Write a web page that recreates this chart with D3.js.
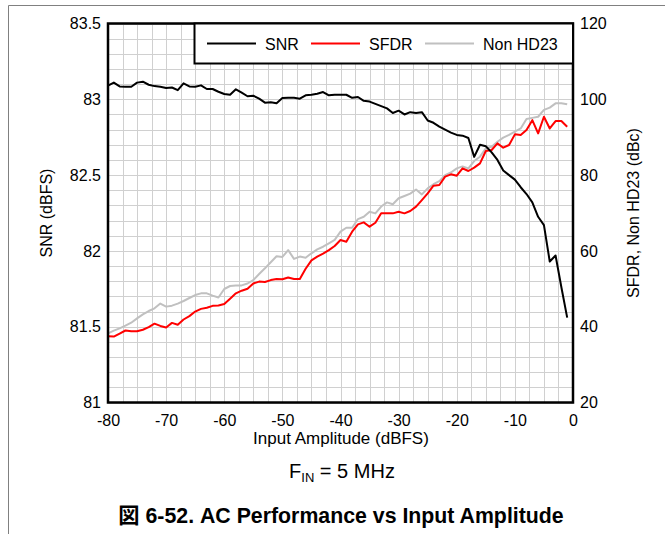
<!DOCTYPE html>
<html>
<head>
<meta charset="utf-8">
<script src="https://cdn.jsdelivr.net/npm/d3@7"></script>
<style>
  html, body { margin: 0; padding: 0; background: #fff; }
  svg { display: block; }
  text { font-family: "Liberation Sans", Arial, "Noto Sans CJK JP", sans-serif; fill: #000; }
</style>
</head>
<body>
<svg id="chart" width="665" height="534"></svg>
<script>
// ---- data ----
const inputAmplitude = [-80,-79,-78,-77,-76,-75,-74,-73,-72,-71,-70,-69,-68,-67,-66,-65,-64,-63,-62,-61,
  -60,-59,-58,-57,-56,-55,-54,-53,-52,-51,-50,-49,-48,-47,-46,-45,-44,-43,-42,-41,
  -40,-39,-38,-37,-36,-35,-34,-33,-32,-31,-30,-29,-28,-27,-26,-25,-24,-23,-22,-21,
  -20,-19,-18,-17,-16,-15,-14,-13,-12,-11,-10,-9,-8,-7,-6,-5,-4,-3,-2,-1];
const snr = [83.09,83.11,83.085,83.083,83.083,83.11,83.116,83.096,83.087,83.083,83.074,83.078,83.06,83.105,83.085,83.083,83.092,83.068,83.068,83.05,
  83.035,83.03,83.066,83.044,83.02,83.024,83.004,82.978,82.98,82.974,83.008,83.01,83.01,83.004,83.026,83.03,83.037,83.048,83.026,83.03,
  83.03,83.03,83.01,83.015,82.99,82.985,82.97,82.955,82.94,82.91,82.925,82.90,82.915,82.91,82.915,82.86,82.845,82.82,82.80,82.78,
  82.765,82.76,82.745,82.62,82.70,82.69,82.65,82.60,82.53,82.50,82.47,82.42,82.375,82.32,82.225,82.17,81.93,81.97,81.76,81.56];
const sfdr = [37.5,37.4,38.2,39.0,38.8,38.8,39.2,39.9,40.8,40.2,39.8,41.0,40.5,41.9,42.8,44.0,44.7,45.0,45.5,45.6,
  46.0,47.4,48.8,49.5,50.0,51.4,51.9,51.8,52.3,52.6,52.5,53.0,52.6,52.6,55.3,57.5,58.5,59.3,60.2,61.3,
  62.87,62.43,65.07,67.0,67.53,66.39,67.44,69.91,69.91,69.91,70.35,69.91,70.52,71.67,73.42,75.18,77.21,77.38,79.58,80.2,
  79.85,81.78,81.08,81.96,83.1,86.35,86.62,88.38,87.23,87.94,90.75,90.58,91.9,94.5,91.0,95.4,92.3,94.27,94.27,92.77];
const nonHD23 = [38.25,38.95,39.57,40.27,41.06,42.2,43.26,44.14,44.85,46.1,45.3,45.55,46.08,46.78,47.57,48.36,48.8,48.8,48.19,47.7,
  49.95,50.74,50.9,50.9,51.4,52.3,53.9,55.4,57.0,58.6,58.4,60.2,57.9,58.5,58.2,59.36,60.4,61.1,62.0,62.9,
  65.07,66.1,66.1,68.4,69.0,70.35,69.9,71.7,72.8,72.3,73.9,74.5,75.1,76.2,74.9,76.5,77.6,78.4,80.0,80.7,
  81.78,82.3,81.78,83.7,84.86,87.06,87.5,88.8,89.9,90.6,91.5,92.3,94.8,95.1,95.4,97.2,97.8,98.93,98.93,98.67];
const xTicks = [-80,-70,-60,-50,-40,-30,-20,-10,0];
const leftTicks = [81,81.5,82,82.5,83,83.5];
const rightTicks = [20,40,60,80,100,120];
const seriesNames = ["SNR","SFDR","Non HD23"];
const seriesColors = ["#000000","#ff0000","#c0c0c0"];

// ---- layout ----
const L = 108, R = 573, T = 23.5, B = 402.5;
const svg = d3.select("#chart");
svg.append("rect").attr("width",665).attr("height",534).attr("fill","#fff");

// page frame
svg.append("line").attr("x1",8.5).attr("x2",665).attr("y1",5.5).attr("y2",5.5).attr("stroke","#808080").attr("stroke-width",1);
svg.append("line").attr("x1",8.5).attr("x2",8.5).attr("y1",5.5).attr("y2",534).attr("stroke","#808080").attr("stroke-width",1);

const x = d3.scaleLinear().domain([-80,0]).range([L,R]);
const yL = d3.scaleLinear().domain([81,83.5]).range([B,T]);
const yR = d3.scaleLinear().domain([20,120]).range([B,T]);

// grid
const g = svg.append("g");
const vGrid = d3.range(-80, 0.001, 2.5);
const hGrid = d3.range(0, 26).map(i => 81 + i*0.1);
g.selectAll(".vg").data(vGrid).join("line")
  .attr("x1", d => Math.round(x(d))+0.5).attr("x2", d => Math.round(x(d))+0.5)
  .attr("y1", T).attr("y2", B).attr("stroke","#d0d0d0").attr("stroke-width",1);
g.selectAll(".hg").data(hGrid).join("line")
  .attr("y1", d => Math.round(yL(d))+0.5).attr("y2", d => Math.round(yL(d))+0.5)
  .attr("x1", L).attr("x2", R).attr("stroke","#d0d0d0").attr("stroke-width",1);

// series
const lineL = d3.line().x((d,i) => x(inputAmplitude[i])).y(d => yL(d));
const lineR = d3.line().x((d,i) => x(inputAmplitude[i])).y(d => yR(d));
svg.append("path").datum(nonHD23).attr("d", lineR).attr("fill","none").attr("stroke",seriesColors[2]).attr("stroke-width",2).attr("stroke-linejoin","round");
svg.append("path").datum(sfdr).attr("d", lineR).attr("fill","none").attr("stroke",seriesColors[1]).attr("stroke-width",2).attr("stroke-linejoin","round");
svg.append("path").datum(snr).attr("d", lineL).attr("fill","none").attr("stroke",seriesColors[0]).attr("stroke-width",2).attr("stroke-linejoin","round");

// plot border
svg.append("rect").attr("x",L).attr("y",T).attr("width",R-L).attr("height",B-T)
  .attr("fill","none").attr("stroke","#000").attr("stroke-width",2.5);

// axes
const fs = 16;
const axL = svg.append("g").attr("transform",`translate(${L},0)`)
  .call(d3.axisLeft(yL).tickValues(leftTicks).tickSize(0).tickPadding(7).tickFormat(d => String(d)));
const axR = svg.append("g").attr("transform",`translate(${R},0)`)
  .call(d3.axisRight(yR).tickValues(rightTicks).tickSize(0).tickPadding(7).tickFormat(d => String(d)));
const axB = svg.append("g").attr("transform",`translate(0,${B})`)
  .call(d3.axisBottom(x).tickValues(xTicks).tickSize(0).tickPadding(12).tickFormat(d => String(d)));
[axL, axR, axB].forEach(a => {
  a.select(".domain").remove();
  a.selectAll("text").attr("font-size", fs).attr("font-family", null).style("fill","#000");
  a.attr("font-family", null);
});

// axis titles
svg.append("text").attr("transform","translate(52,213) rotate(-90)").attr("text-anchor","middle")
  .attr("font-size",fs).text("SNR (dBFS)");
svg.append("text").attr("transform","translate(639,213) rotate(-90)").attr("text-anchor","middle")
  .attr("font-size",fs).text("SFDR, Non HD23 (dBc)");
svg.append("text").attr("x",341).attr("y",444).attr("text-anchor","middle")
  .attr("font-size",17).text("Input Amplitude (dBFS)");

// F_IN annotation
const fin = svg.append("text").attr("x",342).attr("y",478).attr("text-anchor","middle").attr("font-size",20);
fin.append("tspan").text("F");
fin.append("tspan").attr("dy",4).attr("font-size",13).text("IN");
fin.append("tspan").attr("dy",-4).text(" = 5 MHz");

// caption
svg.append("text").attr("x",341).attr("y",523).attr("text-anchor","middle")
  .attr("font-size",21.3).attr("font-weight","bold").text("図 6-52. AC Performance vs Input Amplitude");

// legend
const lg = svg.append("g");
lg.append("rect").attr("x",194.5).attr("y",T).attr("width",R-194.5).attr("height",40)
  .attr("fill","#fff").attr("stroke","#000").attr("stroke-width",2);
const legendItems = [
  {lx1:207, lx2:256, tx:265},
  {lx1:311, lx2:360, tx:369},
  {lx1:425, lx2:474, tx:483}
];
legendItems.forEach((p,i) => {
  lg.append("line").attr("x1",p.lx1).attr("x2",p.lx2).attr("y1",43.5).attr("y2",43.5)
    .attr("stroke",seriesColors[i]).attr("stroke-width",2);
  lg.append("text").attr("x",p.tx).attr("y",49.5).attr("font-size",fs).text(seriesNames[i]);
});
</script>
</body>
</html>
